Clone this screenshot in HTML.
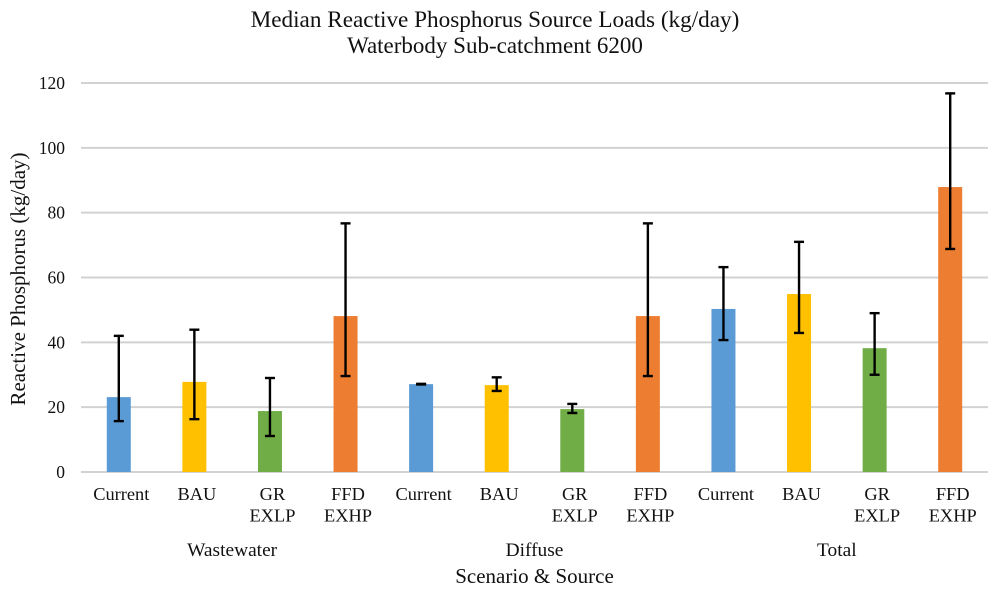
<!DOCTYPE html>
<html lang="en">
<head>
<meta charset="utf-8">
<title>Median Reactive Phosphorus Source Loads</title>
<style>
html,body{margin:0;padding:0;background:#fff;width:997px;height:593px;overflow:hidden}
svg{display:block}
text{font-family:"Liberation Serif",serif;fill:#111}
</style>
</head>
<body>
<svg id="chart" width="997" height="593" viewBox="0 0 997 593" xmlns="http://www.w3.org/2000/svg">
  <rect x="0" y="0" width="997" height="593" fill="#ffffff"/>
  <text x="495" y="27" font-size="23.2" text-anchor="middle">Median Reactive Phosphorus Source Loads (kg/day)</text>
  <text x="495" y="53" font-size="23" text-anchor="middle">Waterbody Sub-catchment 6200</text>
  <text transform="translate(25,279) rotate(-90)" font-size="21" text-anchor="middle">Reactive Phosphorus (kg/day)</text>
  <text x="534.5" y="583" font-size="21" text-anchor="middle">Scenario &amp; Source</text>
  <g id="grid"></g>
  <g id="bars"></g>
  <g id="errors"></g>
  <g id="labels"></g>
</svg>
<script>
var yTicks = [0, 20, 40, 60, 80, 100, 120];
var scenarios = [["Current"], ["BAU"], ["GR", "EXLP"], ["FFD", "EXHP"]];
var sources = ["Wastewater", "Diffuse", "Total"];
var scenarioColors = ["#5b9bd5", "#ffc000", "#70ad47", "#ed7d31"];
var medians = [23.1, 27.8, 18.8, 48.1, 27.1, 26.8, 19.4, 48.1, 50.3, 54.9, 38.2, 87.9];
var upperBounds = [42, 43.9, 29, 76.7, 27.2, 29.2, 21, 76.7, 63.2, 71, 49, 116.8];
var lowerBounds = [15.7, 16.3, 11.1, 29.6, 27, 25, 18.2, 29.6, 40.7, 42.9, 30, 68.8];

var svgNS = "http://www.w3.org/2000/svg";
var plotLeft = 81, plotRight = 988, plotBottom = 472, plotTop = 83, yMax = 120;
function yScale(v) { return plotBottom - (v / yMax) * (plotBottom - plotTop); }
function xBand() { return (plotRight - plotLeft) / medians.length; }
function xScale(i) { return plotLeft + xBand() * (i + 0.5); }
function make(parent, tag, attrs) {
  var el = document.createElementNS(svgNS, tag);
  for (var k in attrs) el.setAttribute(k, attrs[k]);
  document.getElementById(parent).appendChild(el);
  return el;
}

yTicks.forEach(function (t) {
  var line = make("grid", "line", {x1: plotLeft, x2: plotRight, y1: yScale(t), y2: yScale(t), stroke: "#d2d2d2", "stroke-width": 2});
  
  
  var label = make("labels", "text", {x: 65, y: yScale(t) + 6, "font-size": 17.5, "text-anchor": "end"});
  
  
  label.textContent = t;
});

medians.forEach(function (v, i) {
  var cx = xScale(i);
  var s = i % scenarios.length;
  var bar = make("bars", "rect", {x: cx - 12, y: yScale(v), width: 24, height: yScale(0) - yScale(v), fill: scenarioColors[s]});
  
  

  var hi = yScale(upperBounds[i]), lo = yScale(lowerBounds[i]);
  var stem = make("errors", "line", {x1: cx, x2: cx, y1: hi, y2: lo, stroke: "#000", "stroke-width": 2.4});
  
  
  var capHi = make("errors", "line", {x1: cx - 5, x2: cx + 5, y1: hi, y2: hi, stroke: "#000", "stroke-width": 2.4});
  
  
  var capLo = make("errors", "line", {x1: cx - 5, x2: cx + 5, y1: lo, y2: lo, stroke: "#000", "stroke-width": 2.4});
  
  

  scenarios[s].forEach(function (word, n) {
    var cat = make("labels", "text", {x: cx + 2.5, y: 500 + n * 21.5, "font-size": 18.4, "text-anchor": "middle"});
    
    
    cat.textContent = word;
  });
});

sources.forEach(function (name, g) {
  var first = g * scenarios.length;
  var center = (xScale(first) + xScale(first + scenarios.length - 1)) / 2;
  var grp = make("labels", "text", {x: center, y: 556, "font-size": 19.4, "text-anchor": "middle"});
  
  
  grp.textContent = name;
});
</script>
</body>
</html>
